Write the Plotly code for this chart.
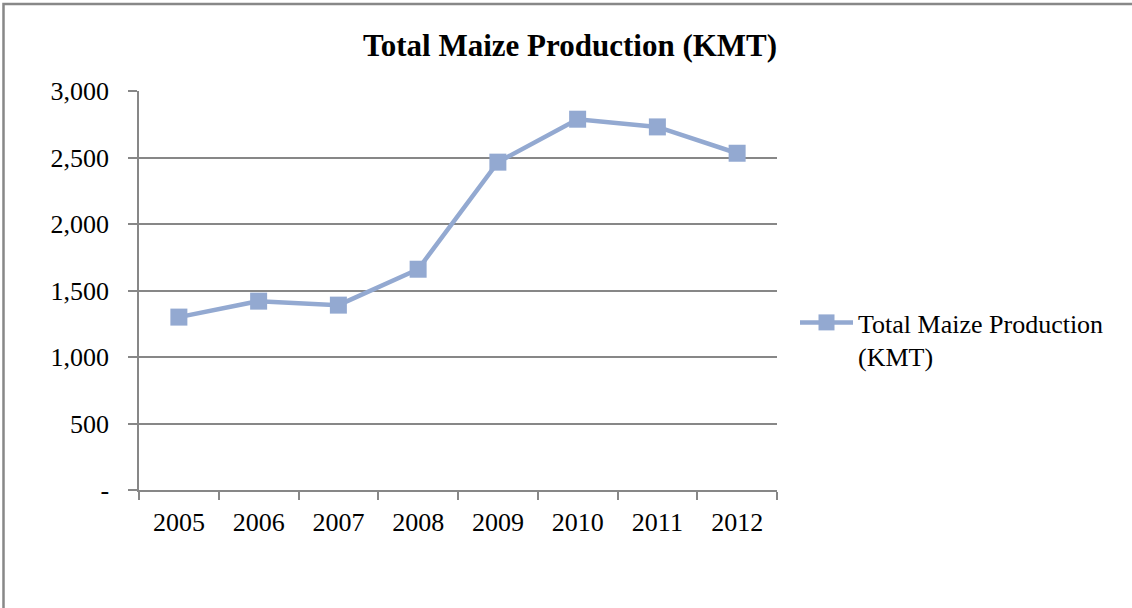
import plotly.graph_objects as go

years = ["2005", "2006", "2007", "2008", "2009", "2010", "2011", "2012"]
production = [1300, 1420, 1390, 1660, 2465, 2788, 2730, 2532]
series_name = "Total Maize Production<br>(KMT)"
y_tickvals = [0, 500, 1000, 1500, 2000, 2500, 3000]
y_ticktext = ["-", "500", "1,000", "1,500", "2,000", "2,500", "3,000"]

W, H = 1132, 608
L, R, T, B = 139, 777, 91, 490
pw, ph = R - L, B - T

def px(x):
    return (x - L) / pw

def py(y):
    return (B - y) / ph

line_color = "#93A9D1"
grid_color = "#878787"
font_family = "Liberation Serif, Times New Roman, serif"

fig = go.Figure()
fig.add_trace(go.Scatter(
    x=years, y=production, name=series_name, mode="lines+markers",
    line=dict(color=line_color, width=4.5),
    marker=dict(symbol="square", size=17, color=line_color),
    showlegend=True,
))

fig.update_layout(
    width=W, height=H,
    margin=dict(l=L, r=W - R, t=T, b=H - B, autoexpand=False),
    paper_bgcolor="white", plot_bgcolor="white",
    font=dict(family=font_family, size=26, color="black"),
    title=dict(text="<b>Total Maize Production (KMT)</b>", x=570 / W, xanchor="center",
               y=1 - 45 / H, yanchor="middle", font=dict(size=31, family=font_family)),
    xaxis=dict(type="category", tickson="boundaries", ticks="outside", ticklen=8,
               tickcolor=grid_color, tickwidth=1.5, showline=True, linecolor=grid_color,
               linewidth=1.5, showgrid=False, ticklabelstandoff=8,
               range=[-0.5, 7.5], fixedrange=True),
    yaxis=dict(range=[0, 3000], tickvals=y_tickvals, ticktext=y_ticktext,
               ticks="outside", ticklen=9, tickcolor=grid_color, tickwidth=1.5,
               showline=True, linecolor=grid_color, linewidth=1.5,
               showgrid=True, gridcolor=grid_color, gridwidth=1.5,
               zeroline=False, ticklabelstandoff=14),
    legend=dict(x=px(795), xanchor="left", y=py(299), yanchor="top",
                valign="top", itemwidth=53, bgcolor="rgba(0,0,0,0)",
                font=dict(size=26, family=font_family)),
    shapes=[dict(type="rect", xref="paper", yref="paper",
                 x0=px(3.5), x1=px(1140), y0=py(620), y1=py(4),
                 line=dict(color="#888888", width=2.5), layer="below")],
)

fig.write_html("out.html", config={"displayModeBar": False},
               post_script="document.body.style.margin='0';document.body.style.overflow='hidden';")
